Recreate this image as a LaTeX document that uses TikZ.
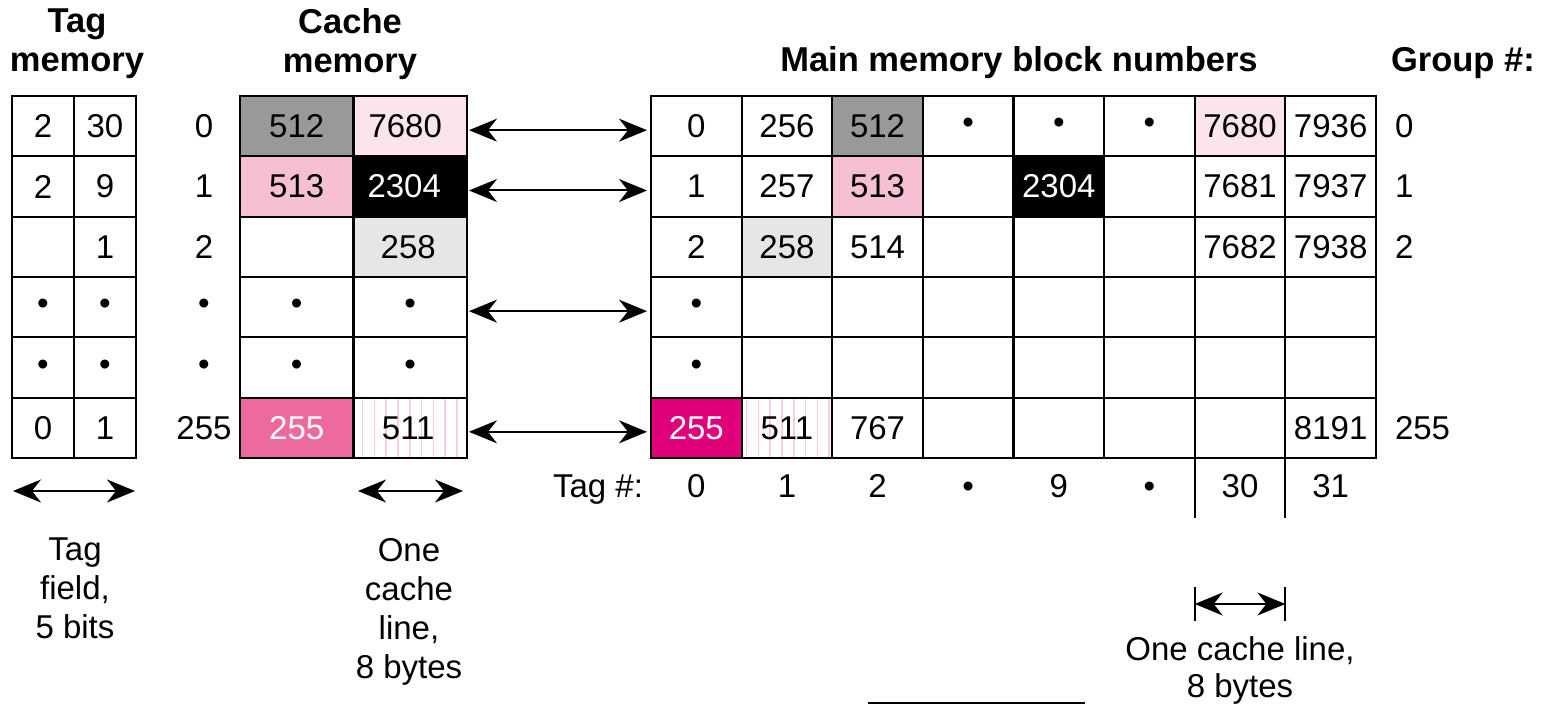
\documentclass[tikz,border=0pt]{standalone}
\usepackage{fontspec}
\setmainfont{Liberation Sans}
\usetikzlibrary{arrows.meta}
\definecolor{gA}{RGB}{153,153,153}
\definecolor{gB}{RGB}{230,230,230}
\definecolor{pA}{RGB}{252,228,236}
\definecolor{pB}{RGB}{247,191,211}
\definecolor{pC}{RGB}{236,106,158}
\definecolor{mag}{RGB}{224,0,122}
\definecolor{hatchpink}{RGB}{249,205,222}
\newcommand\regf{\fontsize{33}{39}\selectfont}
\newcommand\hdrf{\fontsize{34.5}{39}\selectfont\bfseries}
\tikzset{
  cellbox/.style={draw, line width=2.2pt, inner sep=0pt, outer sep=0pt, minimum height=60.33pt, font=\regf, anchor=center},
  tagc/.style={cellbox, minimum width=62pt},
  cachec/.style={cellbox, minimum width=113.5pt},
  mainc/.style={cellbox, minimum width=90.625pt},
  hatch/.style={path picture={\foreach \q in {0,...,9}{\draw[hatchpink, line width=1.6pt] ([xshift=#1+\q*11.8pt]path picture bounding box.south west) -- ([xshift=#1+\q*11.8pt]path picture bounding box.north west);}}},
  lbl/.style={inner sep=0pt, outer sep=0pt, font=\regf},
  hdr/.style={inner sep=0pt, outer sep=0pt, font=\hdrf, align=center},
  dbl/.style={line width=2pt, {Stealth[length=28pt,width=23pt,inset=9pt]}-{Stealth[length=28pt,width=23pt,inset=9pt]}},
}
\begin{document}
\begin{tikzpicture}[x=1pt,y=-1pt]
\useasboundingbox (0,0) rectangle (1543,706);

% headers
\node[hdr, anchor=north] (h1) at (77,9) {Tag\\memory};
\node[hdr, anchor=north] (h2) at (350,9) {Cache\\memory};
\node[hdr, anchor=base] (h3) at (1019,72) {Main memory block numbers};
\node[hdr, anchor=base west] (h4) at (1391,72) {Group \#:};

% tag memory
\foreach \r/\y/\a/\b in {0/126.17/2/30, 1/186.5/2/9, 2/246.83/{}/1, 3/307.17/•/•, 4/367.5/•/•, 5/427.83/0/1}{
  \node[tagc] (t\r0) at (43,\y) {\a};
  \node[tagc] (t\r1) at (105,\y) {\b};
}

% cache row labels
\foreach \r/\y/\a in {0/126.17/0, 1/186.5/1, 2/246.83/2, 3/307.17/•, 4/367.5/•, 5/427.83/255}{
  \node[lbl] (cl\r) at (204,\y) {\a};
}

% cache memory
\node[cachec, fill=gA] (c00) at (296.75,126.17) {512};
\node[cachec, fill=pA] (c01) at (410.25,126.17) {7680\hspace*{10pt}};
\node[cachec, fill=pB] (c10) at (296.75,186.5) {513};
\node[cachec, fill=black, text=white] (c11) at (410.25,186.5) {2304\hspace*{12pt}};
\node[cachec] (c20) at (296.75,246.83) {};
\node[cachec, fill=gB] (c21) at (410.25,246.83) {258\hspace*{4pt}};
\node[cachec] (c30) at (296.75,307.17) {•};
\node[cachec] (c31) at (410.25,307.17) {•};
\node[cachec] (c40) at (296.75,367.5) {•};
\node[cachec] (c41) at (410.25,367.5) {•};
\node[cachec, fill=pC, text=white] (c50) at (296.75,427.83) {255};
\node[cachec, hatch=9pt] (c51) at (410.25,427.83) {511\hspace*{4pt}};

% main memory
\foreach \k/\t/\f/\c in {0/0/white/black, 1/256/white/black, 2/512/gA/black, 3/•/white/black, 4/•/white/black, 5/•/white/black, 6/7680/pA/black, 7/7936/white/black}
  \node[mainc, fill=\f, text=\c] (m0\k) at ({651+90.625*(\k+0.5)},126.17) {\t};
\foreach \k/\t/\f/\c in {0/1/white/black, 1/257/white/black, 2/513/pB/black, 3/{}/white/black, 4/2304/black/white, 5/{}/white/black, 6/7681/white/black, 7/7937/white/black}
  \node[mainc, fill=\f, text=\c] (m1\k) at ({651+90.625*(\k+0.5)},186.5) {\t};
\foreach \k/\t/\f/\c in {0/2/white/black, 1/258/gB/black, 2/514/white/black, 3/{}/white/black, 4/{}/white/black, 5/{}/white/black, 6/7682/white/black, 7/7938/white/black}
  \node[mainc, fill=\f, text=\c] (m2\k) at ({651+90.625*(\k+0.5)},246.83) {\t};
\foreach \k/\t in {0/•, 1/{}, 2/{}, 3/{}, 4/{}, 5/{}, 6/{}, 7/{}}
  \node[mainc] (m3\k) at ({651+90.625*(\k+0.5)},307.17) {\t};
\foreach \k/\t in {0/•, 1/{}, 2/{}, 3/{}, 4/{}, 5/{}, 6/{}, 7/{}}
  \node[mainc] (m4\k) at ({651+90.625*(\k+0.5)},367.5) {\t};
\node[mainc, fill=mag, text=white] (m50) at (696.31,427.83) {255};
\node[mainc, hatch=5pt] (m51) at (786.94,427.83) {511};
\foreach \k/\t in {2/767, 3/{}, 4/{}, 5/{}, 6/{}, 7/8191}
  \node[mainc] (m5\k) at ({651+90.625*(\k+0.5)},427.83) {\t};

% group labels
\node[lbl, anchor=west] (g0) at (1395,126.17) {0};
\node[lbl, anchor=west] (g1) at (1395,186.5) {1};
\node[lbl, anchor=west] (g2) at (1395,246.83) {2};
\node[lbl, anchor=west] (g5) at (1395,427.83) {255};

% connectors cache <-> main
\foreach \r/\c in {0/01, 1/11, 3/31, 5/51}
  \draw[dbl] ([xshift=2pt,yshift=-4pt]c\c.east) -- ([xshift=-4pt,yshift=-4pt]m\r0.west);

% tag # row
\node[lbl, anchor=base east] (tg) at (643,497) {Tag \#:};
\foreach \k/\t in {0/0, 1/1, 2/2, 3/•, 4/9, 5/•, 6/30, 7/31}
  \node[lbl, anchor=base] (tn\k) at ({651+90.625*(\k+0.5)},497) {\t};
\draw[line width=2pt] (m56.south west) -- ++(0,60);
\draw[line width=2pt] (m57.south west) -- ++(0,60);

% bottom-left arrows and labels
\coordinate (tfl) at (13,491);
\coordinate (tfr) at (135,491);
\coordinate (cll) at (358,491);
\coordinate (clr) at (463,491);
\draw[dbl] (tfl) -- (tfr);
\draw[dbl] (cll) -- (clr);
\node[lbl, anchor=north, align=center] (tfield) at (75,538) {Tag\\field,\\5 bits};
\node[lbl, anchor=north, align=center] (cline) at (409,538) {One\\cache\\line,\\8 bytes};

% bottom-right dimension
\path (m56.south west) ++(0,146) coordinate (dl);
\path (m57.south west) ++(0,146) coordinate (dr);
\draw[line width=2pt] (dl) ++(0,-17) -- ++(0,34);
\draw[line width=2pt] (dr) ++(0,-17) -- ++(0,34);
\draw[dbl] (dl) -- (dr);
\node[lbl, anchor=north, align=center, font=\fontsize{33}{37}\selectfont] (cline2) at (1240,637) {One cache line,\\8 bytes};

% bottom rule
\coordinate (bl) at (868,703);
\coordinate (br) at (1085,703);
\draw[line width=2pt] (bl) -- (br);
\end{tikzpicture}
\end{document}
